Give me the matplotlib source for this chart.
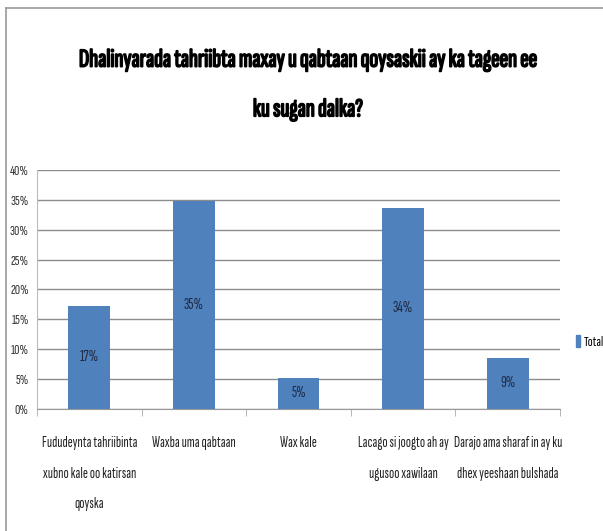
import matplotlib
matplotlib.use("Agg")
import matplotlib.pyplot as plt
from matplotlib.lines import Line2D
from matplotlib.patches import Patch
import matplotlib.patheffects as pe

plt.rcParams['font.family'] = ['Sofia Sans Extra Condensed', 'Liberation Sans', 'DejaVu Sans']

title = "Dhalinyarada tahriibta maxay u qabtaan qoysaskii ay ka tageen ee\nku sugan dalka?"
categories = [
    "Fududeynta tahriibinta\nxubno kale oo katirsan\nqoyska",
    "Waxba uma qabtaan",
    "Wax kale",
    "Lacago si joogto ah ay\nugusoo xawilaan",
    "Darajo ama sharaf in ay ku\ndhex yeeshaan bulshada",
]
values = [17.2, 34.8, 5.2, 33.7, 8.5]
labels = ["17%", "35%", "5%", "34%", "9%"]
yticks = [0, 5, 10, 15, 20, 25, 30, 35, 40]
series_name = "Total"

fig = plt.figure(figsize=(6.03, 5.31), dpi=100)
ax = fig.add_axes([0.0614, 0.2303, 0.8673, 0.4495])

x = list(range(len(categories)))
bars = ax.bar(x, values, width=0.4, color="#4F81BD", zorder=3)
for xi, v, lab in zip(x, values, labels):
    ax.text(xi, v / 2, lab, ha="center", va="center", fontsize=11.5, color="#1F2A44", zorder=4)

ax.set_xlim(-0.5, len(categories) - 0.5)
ax.set_ylim(0, 40)
ax.set_yticks(yticks)
ax.set_yticklabels([f"{t}%" for t in yticks], fontsize=10.5, color="#333333")
ax.yaxis.grid(True, color="#8C8C8C", linewidth=1.0, zorder=0)
ax.tick_params(axis="y", length=0, pad=6)

ax.set_xticks(x)
ax.set_xticklabels(categories, fontsize=11, color="#222222", linespacing=2.5)
ax.set_xticks([i - 0.5 for i in range(len(categories) + 1)], minor=True)
ax.tick_params(axis="x", which="major", length=0, pad=20)
ax.tick_params(axis="x", which="minor", length=5, color="#AAAAAA", direction="out")

for s in ["top", "right"]:
    ax.spines[s].set_visible(False)
ax.spines["left"].set_color("#BBBBBB")
ax.spines["bottom"].set_color("#999999")

fig.text(0.51, 0.84, title, ha="center", va="center", fontsize=18.6, fontweight="bold",
         linespacing=2.48, color="black",
         path_effects=[pe.withStroke(linewidth=1.2, foreground="black")])

leg = fig.legend([Patch(color="#4F81BD")], [series_name], loc="center left",
                 bbox_to_anchor=(0.943, 0.356), frameon=False, fontsize=10.5,
                 handlelength=0.3, handleheight=0.9, handletextpad=0.25, borderpad=0)

fig.add_artist(Line2D([0.01, 1.0], [0.985, 0.985], transform=fig.transFigure, color="#999999", linewidth=1.2))
fig.add_artist(Line2D([0.01, 0.01], [0.0, 0.985], transform=fig.transFigure, color="#999999", linewidth=1.2))

fig.savefig("out.png", dpi=100)
